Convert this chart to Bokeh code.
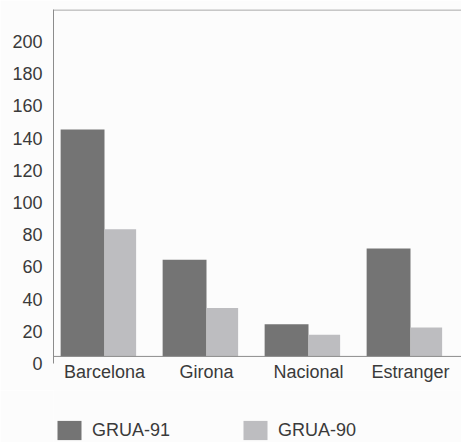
from bokeh.plotting import figure
from bokeh.layouts import column
from bokeh.models import FactorRange, Range1d, FixedTicker, Span, Legend, LegendItem, ColumnDataSource
from bokeh.transform import dodge
from bokeh.embed import file_html
from bokeh.resources import INLINE

# ---- data ----
categories = ["Barcelona", "Girona", "Nacional", "Estranger"]
grua_91 = [141, 60, 20, 67]
grua_90 = [79, 30, 13.5, 18]
series_labels = ["GRUA-91", "GRUA-90"]
y_ticks = [0, 20, 40, 60, 80, 100, 120, 140, 160, 180, 200]

# ---- style ----
FONT = "Liberation Sans"
TEXT = "#3a3a3a"
DARK = "#747474"
LIGHT = "#bdbdc0"
LINE = "#8c8c8c"
BG = "#fcfcfc"
LABEL_SHIFT = -4.35   # scanned tick labels sit slightly below their gridline
Y_START = -4.4
Y_END = 215.5

src = ColumnDataSource(dict(cat=categories, g91=grua_91, g90=grua_90))

p = figure(width=461, height=390, x_range=FactorRange(factors=categories),
           y_range=Range1d(Y_START, Y_END), output_backend="svg", toolbar_location=None,
           min_border_left=53, min_border_right=0, min_border_top=9, min_border_bottom=27)
p.background_fill_color = BG
p.border_fill_color = BG
p.outline_line_color = None
p.grid.grid_line_color = None

r91 = p.vbar(x=dodge("cat", -0.215, range=p.x_range), top="g91", width=0.43, source=src,
             fill_color=DARK, line_color=None)
r90 = p.vbar(x=dodge("cat", 0.155, range=p.x_range), top="g90", width=0.31, source=src,
             fill_color=LIGHT, line_color=None)

p.add_layout(Span(location=0, dimension="width", line_color=LINE, line_width=1))
p.add_layout(Span(location=Y_END - 0.3, dimension="width", line_color=LINE, line_width=1))

ya = p.yaxis[0]
ya.ticker = FixedTicker(ticks=[t + LABEL_SHIFT for t in y_ticks])
ya.major_label_overrides = {t + LABEL_SHIFT: str(t) for t in y_ticks}
ya.major_tick_line_color = None
ya.minor_tick_line_color = None
ya.axis_line_color = LINE
ya.major_label_text_font = FONT
ya.major_label_text_font_size = "18px"
ya.major_label_text_color = TEXT
ya.major_label_standoff = 5

xa = p.xaxis[0]
xa.axis_line_color = None
xa.major_tick_line_color = None
xa.minor_tick_line_color = None
xa.major_label_text_font = FONT
xa.major_label_text_font_size = "18px"
xa.major_label_text_color = TEXT
xa.major_label_standoff = -8

# ---- legend strip below the chart (key glyphs share the data, kept out of view) ----
k = figure(width=461, height=52, x_range=Range1d(0, 1), y_range=Range1d(0, 1),
           output_backend="svg", toolbar_location=None,
           x_axis_location=None, y_axis_location=None, min_border=0)
k.background_fill_color = BG
k.border_fill_color = BG
k.outline_line_color = None
k.grid.grid_line_color = None
k91 = k.vbar(x="g91", top="g91", width=0.1, source=src, fill_color=DARK, line_color=None)
k90 = k.vbar(x="g90", top="g90", width=0.1, source=src, fill_color=LIGHT, line_color=None)

legend = Legend(items=[LegendItem(label=series_labels[0], renderers=[k91]),
                       LegendItem(label=series_labels[1], renderers=[k90])],
                location=(1, 0), orientation="horizontal",
                glyph_width=30, glyph_height=24, label_standoff=8, spacing=70,
                padding=0, margin=0, border_line_color=None, background_fill_alpha=0,
                label_text_font=FONT, label_text_font_size="18px", label_text_color=TEXT)
k.add_layout(legend)

open("out.html", "w").write(file_html(column(p, k, spacing=0), INLINE))
